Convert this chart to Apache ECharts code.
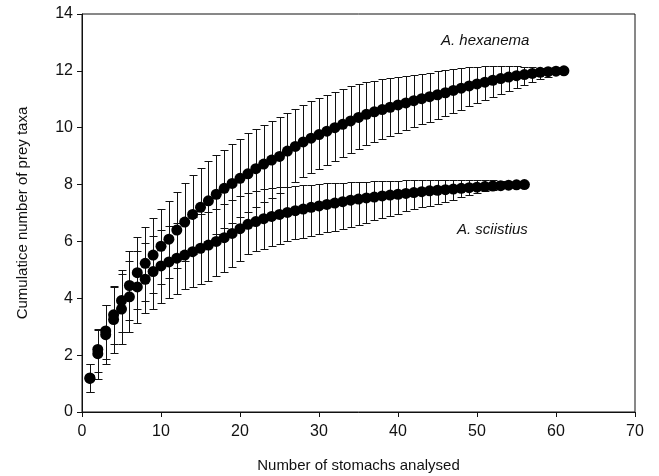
<!DOCTYPE html>
<html>
<head>
<meta charset="utf-8">
<script src="https://cdn.jsdelivr.net/npm/echarts@6/dist/echarts.min.js"></script>
<style>html,body{margin:0;padding:0;background:#fff;}#c{width:659px;height:476px;}</style>
</head>
<body>
<div id="c"></div>
<script>
// ---- data ----
const xTicks = [0, 10, 20, 30, 40, 50, 60, 70];
const yTicks = [0, 2, 4, 6, 8, 10, 12, 14];

// A. hexanema : stomachs 1..61
const hexMean = [1.2,2.2,2.85,3.42,3.92,4.45,4.9,5.23,5.52,5.83,6.08,6.4,6.68,6.95,7.2,7.43,7.66,7.87,8.04,8.22,
  8.38,8.56,8.72,8.86,8.99,9.18,9.34,9.5,9.63,9.76,9.88,10.0,10.12,10.24,10.36,10.47,10.56,10.64,10.72,10.8,
  10.87,10.95,11.02,11.09,11.16,11.23,11.31,11.39,11.47,11.54,11.6,11.67,11.73,11.78,11.83,11.87,11.91,11.95,11.97,11.99,12.0];
const hexHigh = [1.68,2.92,3.78,4.42,5.0,5.65,6.15,6.5,6.82,7.15,7.42,7.75,8.05,8.35,8.6,8.82,9.03,9.23,9.43,9.62,
  9.8,9.95,10.1,10.25,10.38,10.52,10.66,10.8,10.93,11.05,11.16,11.26,11.36,11.45,11.53,11.6,11.65,11.7,11.74,11.78,
  11.82,11.86,11.9,11.94,11.98,12.02,12.06,12.1,12.13,12.15,12.16,12.17,12.17,12.17,12.16,12.15,12.13,12.1,12.07,12.04,12.0];
const hexLow = [0.7,1.42,1.85,2.38,2.83,3.24,3.61,3.91,4.17,4.5,4.73,5.05,5.3,5.55,5.8,6.03,6.26,6.48,6.66,6.85,
  7.02,7.2,7.38,7.54,7.7,7.9,8.08,8.26,8.42,8.56,8.7,8.84,8.98,9.12,9.26,9.38,9.5,9.61,9.72,9.83,
  9.93,10.03,10.12,10.2,10.3,10.4,10.52,10.64,10.76,10.88,10.98,11.08,11.18,11.28,11.4,11.5,11.6,11.7,11.8,11.9,12.0];

// A. sciistius : stomachs 1..56
const sciMean = [1.18,2.05,2.72,3.25,3.62,4.05,4.4,4.67,4.94,5.14,5.28,5.41,5.52,5.64,5.76,5.87,6.0,6.13,6.28,6.45,
  6.6,6.7,6.8,6.88,6.95,7.02,7.08,7.14,7.2,7.25,7.3,7.35,7.4,7.45,7.49,7.53,7.56,7.6,7.63,7.66,
  7.69,7.72,7.75,7.78,7.8,7.82,7.84,7.87,7.89,7.91,7.93,7.95,7.96,7.98,7.99,8.0];
const sciHigh = [1.68,2.9,3.75,4.4,4.85,5.3,5.65,5.95,6.2,6.4,6.55,6.65,6.75,6.85,6.95,7.05,7.15,7.3,7.45,7.6,
  7.72,7.78,7.83,7.87,7.9,7.93,7.96,7.98,8.0,8.02,8.04,8.05,8.07,8.08,8.09,8.1,8.11,8.12,8.13,8.14,
  8.15,8.15,8.15,8.15,8.15,8.15,8.15,8.15,8.15,8.15,8.15,8.15,8.13,8.1,8.05,8.0];
const sciLow = [0.7,1.15,1.7,2.09,2.38,2.83,3.12,3.47,3.61,3.82,4.0,4.15,4.31,4.4,4.5,4.62,4.78,4.92,5.1,5.3,
  5.55,5.65,5.75,5.85,5.92,6.0,6.07,6.13,6.2,6.26,6.32,6.38,6.44,6.5,6.58,6.66,6.74,6.82,6.9,6.98,
  7.06,7.13,7.2,7.25,7.32,7.4,7.47,7.55,7.62,7.7,7.76,7.82,7.87,7.92,7.96,8.0];

// ---- build series data ----
const pts = (m) => m.map((v, i) => [i + 1, v]);
const bars = (lo, hi) => lo.map((v, i) => [i + 1, v, hi[i]]);

const FONT = '"Liberation Sans", Arial, Helvetica, sans-serif';
const INK = '#111';

function errRender(params, api) {
  const x = api.value(0);
  const pLo = api.coord([x, api.value(1)]);
  const pHi = api.coord([x, api.value(2)]);
  const cx = Math.round(pLo[0]) + 0.5;
  const yl = Math.round(pLo[1]) + 0.5;
  const yh = Math.round(pHi[1]) + 0.5;
  const w = 4;
  const st = { stroke: INK, lineWidth: 1 };
  return {
    type: 'group',
    children: [
      { type: 'line', shape: { x1: cx, y1: yh, x2: cx, y2: yl }, style: st },
      { type: 'line', shape: { x1: cx - w, y1: yh, x2: cx + w, y2: yh }, style: st },
      { type: 'line', shape: { x1: cx - w, y1: yl, x2: cx + w, y2: yl }, style: st }
    ]
  };
}

const chart = echarts.init(document.getElementById('c'), null, { renderer: 'canvas' });
chart.setOption({
  animation: false,
  backgroundColor: '#fff',
  grid: { left: 82, right: 24, top: 14, bottom: 64, show: true, borderColor: INK, borderWidth: 1,
          containLabel: false, outerBoundsMode: 'none' },
  xAxis: {
    type: 'value', min: xTicks[0], max: xTicks[xTicks.length - 1], interval: 10,
    name: 'Number of stomachs analysed', nameLocation: 'middle', nameGap: 46,
    nameTextStyle: { fontFamily: FONT, fontSize: 15, color: INK },
    axisLine: { show: true, lineStyle: { color: INK, width: 1 } },
    axisTick: { show: true, inside: false, length: 5, lineStyle: { color: INK } },
    axisLabel: { fontFamily: FONT, fontSize: 16, color: INK, margin: 12 },
    splitLine: { show: false }
  },
  yAxis: {
    type: 'value', min: yTicks[0], max: yTicks[yTicks.length - 1], interval: 2,
    name: 'Cumulatice number of prey taxa', nameLocation: 'middle', nameGap: 52, nameRotate: 90,
    nameTextStyle: { fontFamily: FONT, fontSize: 15, color: INK },
    axisLine: { show: true, lineStyle: { color: INK, width: 1 } },
    axisTick: { show: true, inside: false, length: 5, lineStyle: { color: INK } },
    axisLabel: { fontFamily: FONT, fontSize: 16, color: INK, margin: 9 },
    splitLine: { show: false }
  },
  series: [
    { type: 'custom', name: 'hexErr', renderItem: errRender, data: bars(hexLow, hexHigh), encode: { x: 0, y: [1, 2] }, z: 2, silent: true },
    { type: 'custom', name: 'sciErr', renderItem: errRender, data: bars(sciLow, sciHigh), encode: { x: 0, y: [1, 2] }, z: 2, silent: true },
    { type: 'scatter', name: 'A. sciistius', data: pts(sciMean), symbol: 'circle', symbolSize: 11, itemStyle: { color: '#000', opacity: 1 }, z: 3 },
    { type: 'scatter', name: 'A. hexanema', data: pts(hexMean), symbol: 'circle', symbolSize: 11, itemStyle: { color: '#000', opacity: 1 }, z: 3 }
  ],
  graphic: [
    { type: 'text', left: 441, top: 33, style: { text: 'A. hexanema', font: 'italic 15px ' + FONT, fill: INK } },
    { type: 'text', left: 457, top: 222, style: { text: 'A. sciistius', font: 'italic 15px ' + FONT, fill: INK } }
  ]
});
</script>
</body>
</html>
